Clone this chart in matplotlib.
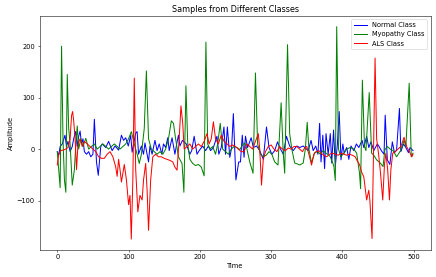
import matplotlib
matplotlib.use("Agg")
import matplotlib.pyplot as plt

normal_t = [0, 2, 4, 7, 10.8, 13, 15, 18, 21, 23, 25.7, 28, 30, 32, 34, 36, 38, 41, 44, 47, 50, 52, 55, 57.5,
            61, 63, 68, 72, 77, 81, 86, 90, 93, 96, 99.6, 103, 105, 110, 112, 114, 118, 121, 123, 126, 128,
            130, 133, 137, 140, 143, 146.6, 149, 152, 155, 157, 161, 165, 168, 170, 172, 175.6, 181, 186,
            188.6, 192, 196, 199, 204, 208, 212, 215, 219, 224, 226.6, 230, 233.8, 236, 238.6, 242, 244.6,
            247, 250.6, 254.5, 257, 259.5, 262, 264, 267, 272, 275, 279.6, 284, 289, 293.5, 297, 301, 305,
            309, 312, 317, 321.5, 326, 331, 336, 340, 345, 352, 356, 359, 362.6, 365.6, 368, 370, 372.5, 375,
            377, 380, 383, 385, 387.6, 390, 393, 395.5, 398, 400.6, 402.5, 406, 409, 412, 416, 419.6, 423,
            427.6, 430, 434, 437, 440, 444, 449, 451, 454.6, 458.4, 460, 463, 466.6, 470, 473, 476, 480,
            482, 485.6, 489, 492.6, 495, 499]
normal_v = [-5, -12, 5, 10, 27, 5, 15, -5, 5, 20, 34, 5, 25, 35, 10, 20, -5, -10, -5, -15, -10, 58, -25, -51,
            5, 10, 3, 15, -3, 6, -2, 27, 17, 22, 6, 27, -6, 31, 34, -10, 6, -10, 12, -10, -25,
            6, -10, 17, -3, 10, -10, 10, 3, 22, -3, 22, -10, 14, 27, 6, 17, 10, -10,
            -3, 25, -10, -3, 6, -3, 6, -3, 3, 25, -10, 3, 43, -10, 43, -16, 3,
            69, -60, -25, -25, 27, -16, 25, 3, 22, 3, 6, -3, -20, 43, 3, -10, -3,
            14, 3, -10, 25, 6, -3, 6, 3, 6, -3, 17, -3, 6, -10, 50, -25, 27, -38,
            30, -10, 30, -27, 37, -34, 10, 73, -21, 10, -8, 3, -20, 6, -3, 10, 3,
            17, 3, 25, 3, 14, -3, 10, 6, -3, -10, 66, -21, -30, 14, -7, -2, 79,
            -5, 10, 3, -7, 3, -3]

myo_t = [0, 2, 4, 6, 8, 10, 12, 14, 16, 18, 21, 24, 26, 28, 30, 33, 36, 40, 44, 48, 52, 56, 60, 64, 68, 72,
         76, 80, 84, 88, 92, 96, 100, 104, 108, 112, 115, 118, 122, 125, 128, 132, 136, 140, 144, 148, 152,
         156, 160, 163, 166, 170, 175, 177.6, 180.5, 183, 186, 190, 194, 198, 202, 206, 208.5, 211, 214,
         218, 222, 225, 228.6, 232, 236, 240, 244, 248, 252, 256, 260, 263, 266, 270, 274.6, 278, 281,
         285, 289, 293, 297, 301, 305, 309.6, 314, 317, 319, 323, 326, 329, 333, 337, 340, 345, 348,
         350.6, 353, 356.7, 361, 365, 369, 373, 377, 381, 383, 388, 390, 392, 394.5, 397.7, 402, 406,
         411, 416, 420, 424, 425.5, 428, 431, 433, 437.6, 441, 444, 448, 453, 457, 459.6, 463, 467, 471,
         476, 482, 486.5, 489, 493.7, 496.6, 499]
myo_v = [-5, -40, -75, 200, 20, -60, -84, 145, 40, 10, -70, -40, 10, 45, 0, 20, 5, 21, 0, 5, 10, 0, 5, 10, 5, 0,
         5, 10, 5, 0, 5, 10, 20, 34, 10, -10, -28, -10, 40, 152, 20, 0, -5, -10, -5, -10, 0,
         20, 55, 50, 20, -15, -28, -84, 123, 10, -20, -28, -32, -30, -35, -52, 208, 10, 0,
         5, -10, 10, 50, 0, -5, -10, 0, 5, 3, -1, 8, 12, 0, -25, -47, 148, 10,
         -10, -15, -12, -5, -10, -25, -31, 90, -8, -47, 203, 30, 0, -27, -29, -31, -27, 0,
         52, 0, -27, -7, -5, -10, -3, -8, -12, -15, -33, -61, 238, 0, -15, -8, 0,
         3, 0, -8, -47, -77, 134, 5, -3, 110, -8, -12, -21, -27, -34, -1, 5, 0, -3,
         -15, -2, 17, 5, 128, -15, -8]

als_t = [0, 2, 5, 8, 12, 15, 18, 20, 21.5, 23, 25, 27, 29, 32, 35, 38, 42, 46, 50, 54, 58, 62, 66, 70, 74,
         78, 82, 84, 86, 88, 90, 94, 97, 100, 102, 103.8, 106, 108, 110, 113, 116, 119, 121, 124, 126, 128,
         131, 134, 138, 142, 146, 150, 154, 158, 162, 165, 168, 171, 173.5, 176, 178, 182, 186, 190, 194,
         198, 202, 206, 210, 213, 216, 219, 222, 226, 230, 234, 238, 242, 246, 250, 254, 258, 262, 266,
         270, 274, 278, 282, 284, 286.5, 289, 292, 296, 300, 304, 308, 312, 316, 320, 324, 328, 332, 336,
         340, 344, 347, 350, 353, 356.7, 360, 363, 367, 370, 374, 378, 382, 386, 390, 394, 398, 402, 406,
         410, 414, 418, 420, 424, 427, 430, 434, 437, 438.5, 441.6, 445.8, 448, 450.6, 453, 456.6, 459,
         461, 463.5, 466, 468, 470.6, 474, 478, 482, 486.5, 490, 494, 497.4, 499]
als_v = [-31, -10, -3, -2, 0, 3, 20, 65, 73, 55, 20, -40, 10, 20, 5, 15, 10, 5, 0, -5, -15, -18, -18, -10, -5,
         -15, -35, -53, -20, -40, -64, -30, -60, -108, -90, -175, -60, 138, -40, -122, -90, -99, -60, -28, -80, -158,
         -60, -15, -10, -15, -15, -18, -20, -22, -25, -35, -41, 20, 84, 50, 0, 5, 10, 0, 5,
         10, 5, 15, 30, 10, 20, 53, 20, 10, 27, 15, 10, 5, 8, 5, 0, -5, -5, 10,
         5, 0, 15, 30, 0, -70, -20, -5, 5, 8, 0, -5, 5, 0, -3, 2, 0, 5, 5,
         0, -5, 2, 5, -10, -31, -10, -5, -3, -8, -12, -15, -10, -8, -10, -12, -8, -10, -12,
         -10, -12, -15, -21, -30, -45, -54, -99, -80, -99, -174, 177, 20, -8, -40, -99, -30,
         -8, -40, -99, -40, -8, -5, 0, 5, 23, 5, -5, -15, -10]

labels = ["Normal Class", "Myopathy Class", "ALS Class"]
title = "Samples from Different Classes"

fig = plt.figure(figsize=(436 / 48, 277 / 48), dpi=48)
ax = fig.add_subplot(111)
fig.subplots_adjust(left=0.0906, right=0.988, bottom=0.0986, top=0.942)
ax.plot(normal_t, normal_v, color="blue", label=labels[0])
ax.plot(myo_t, myo_v, color="green", label=labels[1])
ax.plot(als_t, als_v, color="red", label=labels[2])
ax.set_title(title)
ax.set_xlabel("Time")
ax.set_ylabel("Amplitude")
ax.legend(loc="upper right")
fig.savefig("out.png", dpi=48)
